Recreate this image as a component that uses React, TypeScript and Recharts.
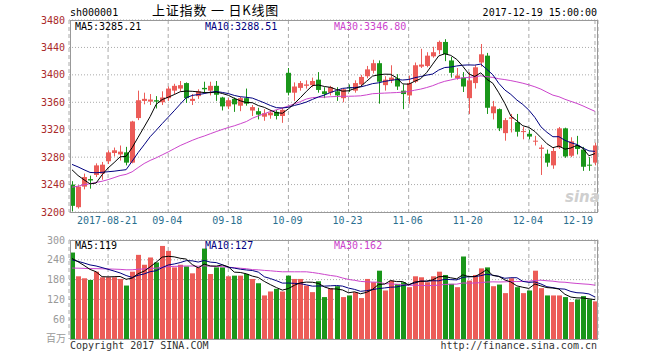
import React from 'react';
import { ComposedChart, Bar, Line, XAxis, YAxis, CartesianGrid } from 'recharts';

const dates = [
  '08-11', '08-14', '08-15', '08-16', '08-17', '08-18', '08-21', '08-22', '08-23', '08-24',
  '08-25', '08-28', '08-29', '08-30', '08-31', '09-01', '09-04', '09-05', '09-06', '09-07',
  '09-08', '09-11', '09-12', '09-13', '09-14', '09-15', '09-18', '09-19', '09-20', '09-21',
  '09-22', '09-25', '09-26', '09-27', '09-28', '09-29', '10-09', '10-10', '10-11', '10-12',
  '10-13', '10-16', '10-17', '10-18', '10-19', '10-20', '10-23', '10-24', '10-25', '10-26',
  '10-27', '10-30', '10-31', '11-01', '11-02', '11-03', '11-06', '11-07', '11-08', '11-09',
  '11-10', '11-13', '11-14', '11-15', '11-16', '11-17', '11-20', '11-21', '11-22', '11-23',
  '11-24', '11-27', '11-28', '11-29', '11-30', '12-01', '12-04', '12-05', '12-06', '12-07',
  '12-08', '12-11', '12-12', '12-13', '12-14', '12-15', '12-18', '12-19',
];

const opens = [
  3240, 3207, 3237, 3248, 3254, 3256, 3274, 3286, 3284, 3287,
  3272, 3337, 3362, 3361, 3363, 3360, 3366, 3377, 3380, 3388,
  3362, 3369, 3381, 3377, 3384, 3367, 3354, 3365, 3355, 3366,
  3348, 3347, 3339, 3341, 3346, 3340, 3403, 3374, 3381, 3384,
  3385, 3393, 3376, 3374, 3376, 3366, 3382, 3377, 3386, 3398,
  3406, 3417, 3385, 3392, 3395, 3377, 3370, 3390, 3412, 3413,
  3427, 3436, 3448, 3421, 3395, 3396, 3366, 3388, 3418, 3428,
  3344, 3350, 3315, 3336, 3331, 3317, 3314, 3303, 3292, 3285,
  3268, 3294, 3322, 3282, 3297, 3291, 3269, 3272,
];

const highs = [
  3245, 3239, 3256, 3253, 3271, 3273, 3290, 3294, 3297, 3295,
  3333, 3377, 3374, 3372, 3369, 3376, 3383, 3387, 3391, 3389,
  3372, 3379, 3390, 3390, 3391, 3368, 3366, 3367, 3368, 3380,
  3356, 3352, 3350, 3349, 3349, 3352, 3410, 3389, 3391, 3392,
  3396, 3404, 3382, 3384, 3382, 3380, 3386, 3392, 3400, 3413,
  3422, 3421, 3398, 3414, 3401, 3386, 3399, 3418, 3438, 3433,
  3441, 3450, 3452, 3426, 3410, 3404, 3404, 3414, 3445, 3432,
  3362, 3351, 3337, 3343, 3343, 3324, 3320, 3311, 3298, 3291,
  3294, 3324, 3323, 3309, 3311, 3295, 3280, 3301,
];

const lows = [
  3201, 3205, 3233, 3234, 3251, 3247, 3270, 3281, 3275, 3268,
  3271, 3334, 3357, 3356, 3351, 3356, 3362, 3372, 3376, 3359,
  3356, 3365, 3373, 3370, 3362, 3348, 3350, 3346, 3347, 3355,
  3340, 3335, 3333, 3336, 3335, 3330, 3370, 3362, 3377, 3380,
  3382, 3374, 3366, 3370, 3362, 3360, 3375, 3374, 3383, 3395,
  3402, 3358, 3377, 3388, 3378, 3350, 3358, 3388, 3410, 3411,
  3425, 3430, 3420, 3396, 3393, 3375, 3343, 3380, 3412, 3343,
  3335, 3318, 3304, 3316, 3310, 3306, 3306, 3297, 3254, 3266,
  3263, 3292, 3279, 3280, 3284, 3260, 3260, 3268,
];

const closes = [
  3209, 3237, 3251, 3246, 3268, 3269, 3287, 3290, 3288, 3272,
  3332, 3363, 3365, 3364, 3361, 3367, 3380, 3384, 3385, 3366,
  3365, 3376, 3379, 3384, 3371, 3354, 3363, 3357, 3366, 3358,
  3353, 3342, 3344, 3345, 3340, 3349, 3374, 3383, 3388, 3386,
  3391, 3378, 3372, 3382, 3370, 3379, 3381, 3388, 3397, 3408,
  3417, 3390, 3393, 3396, 3383, 3372, 3388, 3414, 3415, 3428,
  3433, 3448, 3430, 3403, 3399, 3383, 3392, 3411, 3430, 3352,
  3354, 3322, 3334, 3338, 3317, 3318, 3310, 3304, 3294, 3272,
  3289, 3322, 3281, 3303, 3292, 3266, 3268, 3297,
];

const ma5 = [
  3261.6, 3253.2, 3247.0, 3241.0, 3242.2, 3254.2, 3264.2, 3272.0, 3280.4, 3281.2,
  3293.8, 3309.0, 3324.0, 3339.2, 3357.0, 3364.0, 3367.4, 3371.2, 3375.4, 3376.4,
  3376.0, 3375.2, 3374.2, 3374.0, 3375.0, 3372.8, 3370.2, 3365.8, 3362.2, 3359.6,
  3359.4, 3355.2, 3352.6, 3348.4, 3344.8, 3344.0, 3350.4, 3358.2, 3366.8, 3376.0,
  3384.4, 3385.2, 3383.0, 3381.8, 3378.6, 3376.2, 3376.8, 3380.0, 3383.0, 3390.6,
  3398.2, 3400.0, 3401.0, 3400.8, 3395.8, 3386.8, 3386.4, 3390.6, 3394.4, 3403.4,
  3415.6, 3427.6, 3430.8, 3428.4, 3422.6, 3412.6, 3401.4, 3397.6, 3403.0, 3393.6,
  3387.8, 3373.8, 3358.4, 3340.0, 3333.0, 3325.8, 3323.4, 3317.4, 3308.6, 3299.6,
  3293.8, 3296.2, 3291.6, 3293.4, 3297.4, 3292.8, 3282.0, 3285.2,
];

const ma10 = [
  3269.4, 3265.8, 3261.6, 3257.7, 3257.2, 3257.9, 3258.7, 3259.5, 3260.7, 3261.7,
  3274.0, 3286.6, 3298.0, 3309.8, 3319.1, 3328.9, 3338.2, 3347.6, 3357.3, 3366.7,
  3370.0, 3371.3, 3372.7, 3374.7, 3375.7, 3374.4, 3372.7, 3370.0, 3368.1, 3367.3,
  3366.1, 3362.7, 3359.2, 3355.3, 3352.2, 3351.7, 3352.8, 3355.4, 3357.6, 3360.4,
  3364.2, 3367.8, 3370.6, 3374.3, 3377.3, 3380.3, 3381.0, 3381.5, 3382.4, 3384.6,
  3387.2, 3388.4, 3390.5, 3391.9, 3393.2, 3392.5, 3393.2, 3395.8, 3397.6, 3399.6,
  3401.2, 3407.0, 3410.7, 3411.4, 3413.0, 3414.1, 3414.5, 3414.2, 3415.7, 3408.1,
  3400.2, 3387.6, 3378.0, 3371.5, 3363.3, 3356.8, 3348.6, 3337.9, 3324.3, 3316.3,
  3309.8, 3309.8, 3304.5, 3301.0, 3298.5, 3293.3, 3289.1, 3288.4,
];

const ma30 = [
  3236.3, 3237.6, 3239.9, 3241.2, 3243.1, 3244.8, 3247.2, 3250.1, 3253.1, 3254.9,
  3258.6, 3264.8, 3270.7, 3275.2, 3279.0, 3283.3, 3287.6, 3292.3, 3296.9, 3300.7,
  3304.5, 3307.9, 3310.8, 3314.1, 3317.3, 3320.4, 3323.2, 3325.7, 3328.7, 3331.9,
  3336.7, 3340.2, 3343.3, 3346.6, 3349.0, 3351.7, 3354.6, 3357.7, 3361.0, 3364.8,
  3366.8, 3367.3, 3367.5, 3368.1, 3368.4, 3368.8, 3368.8, 3369.0, 3369.4, 3370.8,
  3372.5, 3373.0, 3373.4, 3373.8, 3374.2, 3374.8, 3375.7, 3377.6, 3379.2, 3381.5,
  3384.2, 3387.7, 3390.6, 3392.5, 3394.5, 3395.6, 3396.2, 3397.2, 3398.6, 3397.4,
  3396.2, 3394.3, 3393.1, 3391.6, 3389.8, 3387.8, 3385.4, 3382.6, 3379.2, 3374.7,
  3370.4, 3368.1, 3364.4, 3361.3, 3358.3, 3354.7, 3350.7, 3346.8,
];

// volume, millions
const volumes = [
  262, 190, 184, 179, 204, 187, 187, 187, 182, 162,
  204, 255, 225, 247, 232, 282, 267, 217, 225, 220,
  199, 217, 274, 197, 217, 217, 190, 192, 192, 197,
  182, 169, 132, 144, 152, 144, 192, 182, 182, 162,
  142, 175, 127, 154, 160, 127, 132, 142, 124, 182,
  172, 207, 147, 177, 167, 172, 157, 190, 187, 172,
  190, 204, 194, 167, 157, 250, 177, 194, 214, 217,
  160, 165, 139, 184, 157, 139, 147, 207, 154, 132,
  132, 132, 127, 112, 120, 130, 120, 114,
];

const volMa5 = [
  244.0, 234.1, 223.0, 210.9, 203.8, 188.8, 188.2, 188.8, 189.4, 181.0,
  184.4, 198.0, 205.6, 218.6, 232.6, 248.2, 250.6, 249.0, 244.6, 242.2,
  225.6, 215.6, 227.0, 221.4, 220.8, 224.4, 219.0, 202.6, 201.6, 197.6,
  190.6, 186.4, 174.4, 164.8, 155.8, 148.2, 152.8, 162.8, 170.4, 172.4,
  172.0, 168.6, 157.6, 152.0, 151.6, 148.6, 140.0, 143.0, 137.0, 141.4,
  150.4, 165.4, 166.4, 177.0, 174.0, 174.0, 164.0, 172.6, 174.6, 175.6,
  179.2, 188.6, 189.4, 185.4, 182.4, 194.4, 189.0, 189.0, 198.4, 210.4,
  192.4, 190.0, 179.0, 173.0, 161.0, 156.8, 153.2, 166.8, 160.8, 155.8,
  154.4, 151.4, 135.4, 127.0, 124.6, 124.2, 121.8, 119.2,
];

const volMa10 = [
  240.0, 235.4, 230.2, 224.5, 221.3, 216.4, 211.2, 205.9, 200.2, 192.4,
  186.6, 193.1, 197.2, 204.0, 206.8, 216.3, 224.3, 227.3, 231.6, 237.4,
  236.9, 233.1, 238.0, 233.0, 231.5, 225.0, 217.3, 214.8, 211.5, 209.2,
  207.5, 202.7, 188.5, 183.2, 176.7, 169.4, 169.6, 168.6, 167.6, 164.1,
  160.1, 160.7, 160.2, 161.2, 162.0, 160.3, 154.3, 150.3, 144.5, 146.5,
  149.5, 152.7, 154.7, 157.0, 157.7, 162.2, 164.7, 169.5, 175.8, 174.8,
  176.6, 176.3, 181.0, 180.0, 179.0, 186.8, 188.8, 189.2, 191.9, 196.4,
  193.4, 189.5, 184.0, 185.7, 185.7, 174.6, 171.6, 172.9, 166.9, 158.4,
  155.6, 152.3, 151.1, 143.9, 140.2, 139.3, 136.6, 127.3,
];

const volMa30 = [
  215.0, 214.6, 214.0, 213.2, 213.2, 212.7, 212.2, 211.7, 211.0, 209.7,
  209.7, 211.5, 212.2, 213.7, 214.7, 217.3, 219.5, 220.0, 220.7, 221.3,
  221.2, 220.5, 221.8, 220.5, 219.9, 219.2, 217.6, 216.0, 214.4, 213.0,
  210.3, 209.6, 207.9, 206.7, 205.0, 203.6, 203.7, 203.6, 203.6, 203.6,
  201.5, 198.8, 195.6, 192.5, 190.1, 184.9, 180.4, 177.9, 174.5, 173.3,
  172.4, 172.0, 167.8, 167.1, 165.5, 164.0, 162.9, 162.8, 162.6, 161.8,
  162.1, 163.2, 165.3, 166.1, 166.2, 169.8, 169.3, 169.7, 170.7, 172.6,
  173.2, 172.8, 173.2, 174.2, 174.1, 174.5, 175.0, 177.2, 178.2, 176.5,
  175.2, 172.7, 172.0, 169.9, 168.3, 166.9, 165.7, 163.1,
];

const priceTicks = [3200, 3240, 3280, 3320, 3360, 3400, 3440, 3480];
const volumeTicks = [0, 60, 120, 180, 240, 300];
const dateTicks = ['08-21', '09-04', '09-18', '10-09', '10-23', '11-06', '11-20', '12-04', '12-19'];
const dateTickLabels = ['2017-08-21', '09-04', '09-18', '10-09', '10-23', '11-06', '11-20', '12-04', '12-19'];

const RED = '#ec5c58';
const GREEN = '#1a961a';
const NAVY = '#000080';
const MAGENTA = '#cc44cc';
const GRID = '#aaaaaa';
const MONO = '"DejaVu Sans Mono", monospace';

const rows = dates.map((date, i) => ({
  date,
  open: opens[i],
  high: highs[i],
  low: lows[i],
  close: closes[i],
  range: [lows[i], highs[i]],
  volume: volumes[i],
  ma5: ma5[i],
  ma10: ma10[i],
  ma30: ma30[i],
  volMa5: volMa5[i],
  volMa10: volMa10[i],
  volMa30: volMa30[i],
}));

const candleColor = (d: any) => (d.close >= d.open ? RED : GREEN);

function Candle(props: any) {
  const { x, y, width, height, payload } = props;
  const { open, close, high, low } = payload;
  const color = candleColor(payload);
  const top = Math.min(y, y + height);
  const h = Math.abs(height);
  const toY = (v: number) => top + ((high - v) / (high - low || 1)) * h;
  const bodyTop = toY(Math.max(open, close));
  const bodyBottom = toY(Math.min(open, close));
  const left = Math.round(x);
  const cx = left + 2.5;
  return (
    <g>
      <line x1={cx} x2={cx} y1={top} y2={top + h} stroke={color} strokeWidth={1} />
      <rect x={left} y={bodyTop} width={5} height={Math.max(1, bodyBottom - bodyTop)} fill={color} />
    </g>
  );
}

function VolumeBar(props: any) {
  const { x, y, height, payload } = props;
  return <rect x={Math.round(x)} y={y} width={5} height={height} fill={candleColor(payload)} />;
}

function DateTick(props: any) {
  const { x, y, payload } = props;
  const idx = dateTicks.indexOf(payload.value);
  const last = idx === dateTicks.length - 1;
  return (
    <text
      x={last ? x - 2 : x - 1}
      y={y}
      dy="0.71em"
      textAnchor={last ? 'end' : 'middle'}
      fill="#2a6f8f"
      fontSize={10}
      fontFamily={MONO}
    >
      {dateTickLabels[idx]}
    </text>
  );
}

function Txt({ left, right, top, color = '#000', size = 10, lh = 12, family = MONO, spacing = 0, children }: any) {
  return (
    <div
      style={{
        position: 'absolute',
        left,
        right,
        top,
        color,
        fontFamily: family,
        fontSize: size,
        lineHeight: `${lh}px`,
        letterSpacing: spacing,
        whiteSpace: 'pre',
      }}
    >
      {children}
    </div>
  );
}

const frame = (top: number, height: number): React.CSSProperties => ({
  position: 'absolute',
  left: 70,
  top,
  width: 528,
  height,
  boxSizing: 'border-box',
  border: '1px solid #999',
  pointerEvents: 'none',
});

export default function App() {
  return (
    <div style={{ position: 'fixed', left: 0, top: 0, width: 660, height: 360, background: '#fff', overflow: 'hidden' }}>
      <Txt left={70} top={7}>sh000001</Txt>
      <Txt left={152} top={3} size={13} lh={14} spacing={0.8} family='"Noto Sans CJK SC", sans-serif'>
        上证指数 一 日K线图
      </Txt>
      <Txt right={63} top={7}>2017-12-19 15:00:00</Txt>

      <div style={{ position: 'absolute', left: 0, top: 0 }}>
        <ComposedChart width={660} height={232} data={rows} margin={{ top: 20, right: 62, bottom: 0, left: 0 }}>
          <CartesianGrid vertical={false} stroke={GRID} strokeDasharray="1 2" />
          <CartesianGrid horizontal={false} stroke={GRID} strokeDasharray="4 3" />
          <XAxis
            dataKey="date"
            ticks={dateTicks}
            interval={0}
            height={20}
            axisLine={false}
            tickLine={false}
            tickSize={0}
            tickMargin={5}
            tick={<DateTick />}
          />
          <YAxis
            domain={[3200, 3480]}
            ticks={priceTicks}
            interval={0}
            width={69}
            axisLine={false}
            tickLine={false}
            tickSize={0}
            tickMargin={4}
            tick={{ fill: '#aa2a2a', fontSize: 10, fontFamily: MONO }}
          />
          <Bar dataKey="range" barSize={5} shape={<Candle />} isAnimationActive={false} />
          <Line dataKey="ma30" stroke={MAGENTA} dot={false} strokeWidth={1} isAnimationActive={false} />
          <Line dataKey="ma10" stroke={NAVY} dot={false} strokeWidth={1} isAnimationActive={false} />
          <Line dataKey="ma5" stroke="#000" dot={false} strokeWidth={1} isAnimationActive={false} />
        </ComposedChart>
      </div>
      <div style={frame(20, 193)} />
      <Txt left={565} top={191} size={15} color="#cfcfcf" family='"DejaVu Sans", sans-serif'>
        <span style={{ fontStyle: 'italic', fontWeight: 'bold' }}>sina</span>
      </Txt>
      <Txt left={75} top={21}>MA5:3285.21</Txt>
      <Txt left={205} top={21} color={NAVY}>MA10:3288.51</Txt>
      <Txt left={334} top={21} color={MAGENTA}>MA30:3346.80</Txt>

      <div style={{ position: 'absolute', left: 0, top: 230 }}>
        <ComposedChart width={660} height={109} data={rows} margin={{ top: 10, right: 62, bottom: 0, left: 0 }}>
          <CartesianGrid vertical={false} stroke={GRID} strokeDasharray="1 2" />
          <CartesianGrid horizontal={false} stroke={GRID} strokeDasharray="4 3" />
          <XAxis dataKey="date" ticks={dateTicks} interval={0} hide />
          <YAxis
            domain={[0, 300]}
            ticks={volumeTicks}
            interval={0}
            width={69}
            axisLine={false}
            tickLine={false}
            tickSize={0}
            tickMargin={4}
            tickFormatter={(v) => (v === 0 ? '' : String(v))}
            tick={{ fill: '#999', fontSize: 10, fontFamily: MONO }}
          />
          <Bar dataKey="volume" barSize={5} shape={<VolumeBar />} isAnimationActive={false} />
          <Line dataKey="volMa30" stroke={MAGENTA} dot={false} strokeWidth={1} isAnimationActive={false} />
          <Line dataKey="volMa10" stroke={NAVY} dot={false} strokeWidth={1} isAnimationActive={false} />
          <Line dataKey="volMa5" stroke="#000" dot={false} strokeWidth={1} isAnimationActive={false} />
        </ComposedChart>
      </div>
      <div style={frame(240, 100)} />
      <Txt left={75} top={240}>MA5:119</Txt>
      <Txt left={205} top={240} color={NAVY}>MA10:127</Txt>
      <Txt left={334} top={240} color={MAGENTA}>MA30:162</Txt>
      <Txt left={46} top={332} color="#999" size={10} family='"Noto Sans CJK SC", sans-serif'>百万</Txt>
      <Txt left={70} top={340} color="#333">Copyright 2017 SINA.COM</Txt>
      <Txt right={63} top={340} color="#333">http://finance.sina.com.cn</Txt>
    </div>
  );
}
